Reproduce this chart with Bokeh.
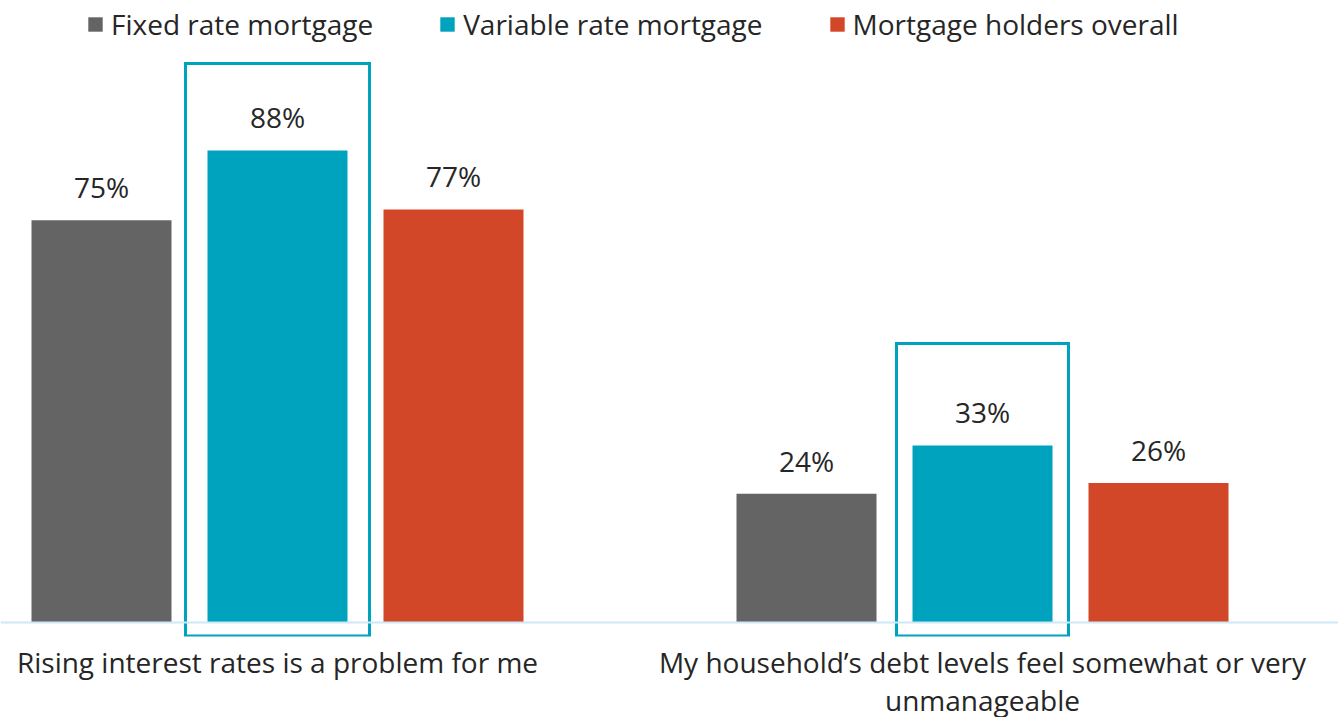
from bokeh.plotting import figure
from bokeh.models import FixedTicker, Span, Legend, LegendItem
from bokeh.core.properties import value
from bokeh.embed import file_html
from bokeh.resources import INLINE

# ---- data ----
categories = [
    "Rising interest rates is a problem for me",
    "My household\u2019s debt levels feel somewhat or very\nunmanageable",
]
series = ["Fixed rate mortgage", "Variable rate mortgage", "Mortgage holders overall"]
fixed_rate = [75, 24]
variable_rate = [88, 33]
overall = [77, 26]
values = [fixed_rate, variable_rate, overall]
colors = ["#646464", "#00a3be", "#d24727"]
highlight_series = 1  # variable rate mortgage boxed in both groups

# ---- geometry (pixel scale helpers) ----
PX_X = 705.0   # px per category unit
PX_Y = 5.364   # px per percentage point
offsets = [-176 / PX_X, 0.0, 176 / PX_X]
bar_w = 140 / PX_X
FONT = "Open Sans"
FS = "28px"
TXT = "#262626"

p = figure(frame_width=1338, frame_height=636, output_backend="svg", toolbar_location=None,
           x_range=(-277 / PX_X, 1061 / PX_X), y_range=(-14 / PX_Y, 622 / PX_Y),
           min_border=0)
p.outline_line_color = None
p.grid.visible = False
p.yaxis.visible = False

renderers = []
for i, s in enumerate(series):
    xs = [g + offsets[i] for g in range(len(categories))]
    r = p.vbar(x=xs, top=values[i], width=bar_w, bottom=0,
               fill_color=colors[i], line_color=None)
    renderers.append(r)
    p.text(x=xs, y=values[i], text=[f"{v}%" for v in values[i]],
           text_align="center", text_baseline="alphabetic", y_offset=-33,
           text_font=value(FONT), text_font_size=FS, text_color=TXT)

# highlight boxes around the variable-rate bars
pads_x = [22 / PX_X, 16 / PX_X]
pads_top = [87 / PX_Y, 102 / PX_Y]
hx = [g + offsets[highlight_series] for g in range(len(categories))]
p.quad(left=[x - bar_w / 2 - px for x, px in zip(hx, pads_x)],
       right=[x + bar_w / 2 + px for x, px in zip(hx, pads_x)],
       top=[v + pt for v, pt in zip(values[highlight_series], pads_top)],
       bottom=[-13.5 / PX_Y] * len(categories),
       fill_color=None, line_color="#00a3be", line_width=3, line_join="miter")

p.add_layout(Span(location=0, dimension="width", line_color="#cde8f7", line_width=2))

ax = p.xaxis[0]
ax.ticker = FixedTicker(ticks=list(range(len(categories))))
ax.major_label_overrides = {i: c for i, c in enumerate(categories)}
ax.axis_line_color = None
ax.major_tick_line_color = None
ax.minor_tick_line_color = None
ax.major_label_standoff = 0
ax.major_label_text_font = FONT
ax.major_label_text_font_size = FS
ax.major_label_text_color = TXT
ax.major_label_text_line_height = 1.0

legend = Legend(items=[LegendItem(label=s, renderers=[r]) for s, r in zip(series, renderers)],
                orientation="horizontal", location=(86, 593),
                glyph_width=18, glyph_height=18, label_standoff=7, spacing=65,
                padding=0, margin=0, border_line_color=None, background_fill_alpha=0,
                label_text_font=FONT, label_text_font_size=FS, label_text_color=TXT)
p.add_layout(legend)

open("out.html", "w").write(file_html(p, INLINE))
